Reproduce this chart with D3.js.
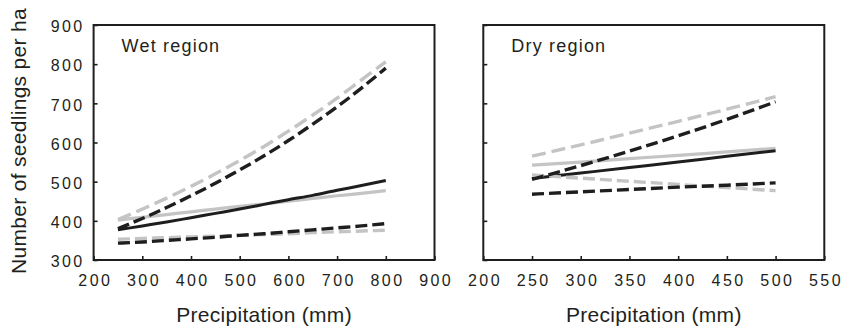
<!DOCTYPE html>
<html>
<head>
<meta charset="utf-8">
<script src="https://cdn.jsdelivr.net/npm/d3@7"></script>
<style>
  body { margin: 0; background: #fff; }
  svg text { font-family: "Liberation Sans", Arial, sans-serif; fill: #231f20; }
</style>
</head>
<body>
<div id="chart"></div>
<script>
// wet region: precipitation 250..800 mm
var wetX = [250, 300, 350, 400, 450, 500, 550, 600, 650, 700, 750, 800]
var wetGreyLong = [403, 430, 458, 488, 520, 554, 590, 629, 670, 713, 760, 806]
var wetBlackLong = [380, 406, 434, 464, 496, 530, 566, 605, 647, 691, 739, 790]
var wetBlackSolid = [377, 387, 397, 408, 419, 430, 442, 454, 465, 478, 490, 503]
var wetGreySolid = [402, 409, 416, 423, 430, 437, 443, 450, 457, 464, 470, 477]
var wetBlackShort = [343, 346, 350, 354, 358, 363, 367, 372, 377, 382, 387, 393]
var wetGreyShort = [353, 355, 357, 359, 361, 363, 365, 367, 370, 372, 374, 376]

// dry region: precipitation 250..500 mm
var dryX = [250, 300, 350, 400, 450, 500]
var dryGreyLong = [565, 594, 624, 654, 685, 717]
var dryBlackLong = [506, 541, 578, 617, 659, 704]
var dryGreySolid = [542, 550, 559, 567, 576, 585]
var dryBlackSolid = [508, 522, 536, 550, 565, 579]
var dryGreyShort = [517, 509, 501, 493, 485, 477]
var dryBlackShort = [468, 474, 480, 486, 491, 497]

var yTicks = [300, 400, 500, 600, 700, 800, 900]
var wetXTicks = [200, 300, 400, 500, 600, 700, 800, 900]
var dryXTicks = [200, 250, 300, 350, 400, 450, 500, 550]

var BLACK = "#1e1e1e", GREY = "#c4c4c4"

var svg = d3.select("#chart").append("svg")
    .attr("width", 842).attr("height", 331)

var top_ = 25, bottom = 260

var y = d3.scaleLinear().domain([300, 900]).range([bottom, top_])

function panel(x0, x1, domain, xTicks, label, showYLabels, xs, series) {
    var x = d3.scaleLinear().domain(domain).range([x0, x1])
    var g = svg.append("g")

    // y ticks (inward)
    var ya = g.append("g")
        .attr("transform", "translate(" + x0 + ",0)")
        .call(d3.axisLeft(y).tickValues(yTicks).tickSize(-4).tickPadding(11)
            .tickFormat(showYLabels ? d3.format("d") : ""))
    ya.select(".domain").remove()
    ya.selectAll("line").attr("stroke", BLACK).attr("stroke-width", 1.6)
    ya.selectAll("text")
        .style("font-size", "16px").style("letter-spacing", "2.4px")
        .attr("dy", "0.42em").attr("x", -9)

    // x ticks (inward)
    var xa = g.append("g")
        .attr("transform", "translate(0," + bottom + ")")
        .call(d3.axisBottom(x).tickValues(xTicks).tickSize(-4).tickPadding(15))
    xa.select(".domain").remove()
    xa.selectAll("line").attr("stroke", BLACK).attr("stroke-width", 1.6)
    xa.selectAll("text")
        .style("font-size", "16px").style("letter-spacing", "2.4px")
        .attr("dx", "1.2px")

    // series
    var line = d3.line()
        .x(function(d) { return x(d[0]) })
        .y(function(d) { return y(d[1]) })
        .curve(d3.curveMonotoneX)
    series.forEach(function(s) {
        g.append("path")
            .datum(xs.map(function(v, i) { return [v, s.values[i]] }))
            .attr("fill", "none")
            .attr("stroke", s.color)
            .attr("stroke-width", s.width)
            .attr("stroke-dasharray", s.dash)
            .attr("d", line)
    })

    // frame
    g.append("rect")
        .attr("x", x0).attr("y", top_)
        .attr("width", x1 - x0).attr("height", bottom - top_)
        .attr("fill", "none").attr("stroke", BLACK).attr("stroke-width", 2)

    g.append("text")
        .attr("x", x0 + 28).attr("y", 52)
        .style("font-size", "18px").style("letter-spacing", "1.2px")
        .text(label)

    g.append("text")
        .attr("x", (x0 + x1) / 2).attr("y", 322)
        .attr("text-anchor", "middle")
        .style("font-size", "21px").style("letter-spacing", "0.3px")
        .text("Precipitation (mm)")
}

function seriesSet(gl, bl, gs, bs, gsh, bsh) {
    return [
        { values: gs, color: GREY, width: 3.2, dash: null },
        { values: bs, color: BLACK, width: 3, dash: null },
        { values: gsh, color: GREY, width: 3.4, dash: "12,5" },
        { values: bsh, color: BLACK, width: 3.4, dash: "12,5" },
        { values: gl, color: GREY, width: 3.4, dash: "14,6" },
        { values: bl, color: BLACK, width: 3.4, dash: "12,5" }
    ]
}

panel(93.6, 434.5, [200, 900], wetXTicks, "Wet region", true, wetX,
    seriesSet(wetGreyLong, wetBlackLong, wetGreySolid, wetBlackSolid, wetGreyShort, wetBlackShort))

panel(483.3, 824.3, [200, 550], dryXTicks, "Dry region", false, dryX,
    seriesSet(dryGreyLong, dryBlackLong, dryGreySolid, dryBlackSolid, dryGreyShort, dryBlackShort))

svg.append("text")
    .attr("transform", "translate(26,141) rotate(-90)")
    .attr("text-anchor", "middle")
    .style("font-size", "21px").style("letter-spacing", "0.3px")
    .text("Number of seedlings per ha")
</script>
</body>
</html>
